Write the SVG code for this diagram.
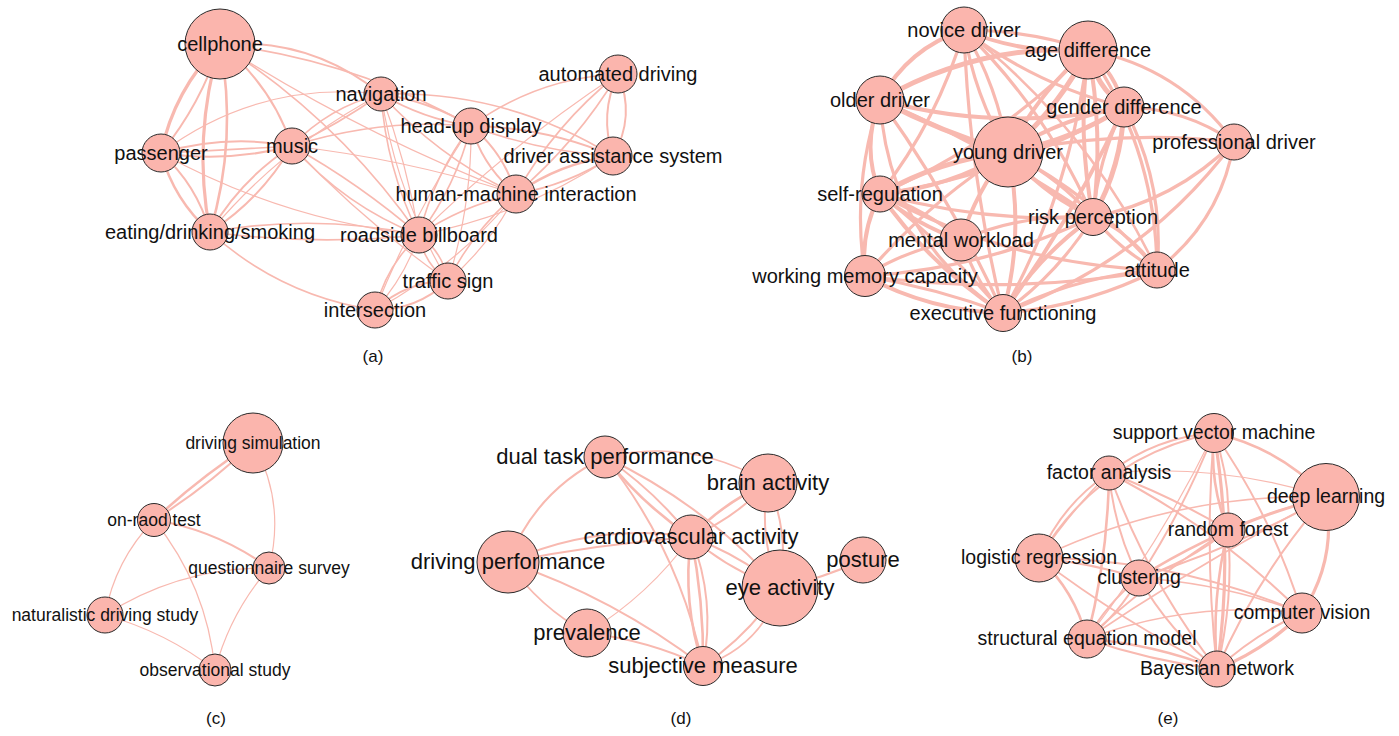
<svg xmlns="http://www.w3.org/2000/svg" width="1399" height="736" viewBox="0 0 1399 736">
<style>
  .bg{fill:#ffffff}
  .e{fill:none;stroke:#f8b9b0;stroke-linecap:round}
  .w1{stroke-width:1.2}
  .w15{stroke-width:1.6}
  .w2{stroke-width:2}
  .w25{stroke-width:2.6}
  .w3{stroke-width:3.2}
  .w4{stroke-width:4}
  .w5{stroke-width:5}
  .n circle{fill:#fbb5ad;stroke:#2a2a2a;stroke-width:1}
  .n text{font-family:"Liberation Sans",Arial,sans-serif;fill:#111;text-anchor:middle}
  .pa text,.pb text{font-size:20px}
  .pc text{font-size:17.5px}
  .pd text{font-size:22px}
  .pe text{font-size:19.5px}
  .cap{font-family:"Liberation Sans",Arial,sans-serif;font-size:17px;fill:#111;text-anchor:middle}
</style>
<rect class="bg" width="1399" height="736"/>

<!-- panel (a) -->
<g id="edges-a">
  <path class="e w3" d="M220,44 Q174,90 161,153"/>
  <path class="e w2" d="M220,44 Q201,104 161,153"/>
  <path class="e w2" d="M220,44 Q271,84 292,146"/>
  <path class="e w3" d="M220,44 Q192,137 210,232"/>
  <path class="e w25" d="M220,44 Q238,139 210,232"/>
  <path class="e w2" d="M220,44 Q310,37 381,94"/>
  <path class="e w15" d="M220,44 Q354,60 471,126"/>
  <path class="e w15" d="M220,44 Q339,120 419,235"/>
  <path class="e w1" d="M220,44 Q360,134 516,194"/>
  <path class="e w2" d="M161,153 Q226,134 292,146"/>
  <path class="e w2" d="M161,153 Q227,163 292,146"/>
  <path class="e w15" d="M161,153 Q227,150 292,146"/>
  <path class="e w1" d="M161,153 Q259,80 381,94"/>
  <path class="e w25" d="M161,153 Q174,200 210,232"/>
  <path class="e w2" d="M161,153 Q197,185 210,232"/>
  <path class="e w1" d="M161,153 Q282,220 419,235"/>
  <path class="e w2" d="M292,146 Q241,179 210,232"/>
  <path class="e w2" d="M292,146 Q261,199 210,232"/>
  <path class="e w15" d="M292,146 Q329,107 381,94"/>
  <path class="e w15" d="M292,146 Q339,124 381,94"/>
  <path class="e w15" d="M292,146 Q380,118 471,126"/>
  <path class="e w15" d="M292,146 Q345,206 419,235"/>
  <path class="e w15" d="M292,146 Q360,184 419,235"/>
  <path class="e w1" d="M292,146 Q406,159 516,194"/>
  <path class="e w1" d="M292,146 Q363,221 448,281"/>
  <path class="e w15" d="M210,232 Q315,213 419,235"/>
  <path class="e w15" d="M210,232 Q314,246 419,235"/>
  <path class="e w15" d="M210,232 Q281,296 375,310"/>
  <path class="e w1" d="M210,232 Q282,146 381,94"/>
  <path class="e w2" d="M381,94 Q423,119 471,126"/>
  <path class="e w2" d="M381,94 Q429,101 471,126"/>
  <path class="e w15" d="M381,94 Q439,158 516,194"/>
  <path class="e w15" d="M381,94 Q386,168 419,235"/>
  <path class="e w1" d="M381,94 Q407,163 419,235"/>
  <path class="e w1" d="M381,94 Q396,194 448,281"/>
  <path class="e w15" d="M381,94 Q506,90 613,156"/>
  <path class="e w15" d="M471,126 Q537,78 618,74"/>
  <path class="e w2" d="M471,126 Q545,127 613,156"/>
  <path class="e w15" d="M471,126 Q540,152 613,156"/>
  <path class="e w2" d="M471,126 Q483,167 516,194"/>
  <path class="e w2" d="M471,126 Q504,153 516,194"/>
  <path class="e w15" d="M471,126 Q434,175 419,235"/>
  <path class="e w15" d="M471,126 Q456,186 419,235"/>
  <path class="e w1" d="M471,126 Q472,205 448,281"/>
  <path class="e w1" d="M471,126 Q414,213 375,310"/>
  <path class="e w2" d="M618,74 Q599,114 613,156"/>
  <path class="e w2" d="M618,74 Q636,116 613,156"/>
  <path class="e w15" d="M618,74 Q555,124 516,194"/>
  <path class="e w15" d="M618,74 Q577,142 516,194"/>
  <path class="e w1" d="M618,74 Q510,145 419,235"/>
  <path class="e w25" d="M613,156 Q560,163 516,194"/>
  <path class="e w2" d="M613,156 Q568,185 516,194"/>
  <path class="e w1" d="M613,156 Q524,215 419,235"/>
  <path class="e w15" d="M516,194 Q463,205 419,235"/>
  <path class="e w15" d="M516,194 Q473,231 448,281"/>
  <path class="e w1" d="M516,194 Q491,244 448,281"/>
  <path class="e w1" d="M516,194 Q457,266 375,310"/>
  <path class="e w15" d="M419,235 Q424,264 448,281"/>
  <path class="e w15" d="M419,235 Q443,252 448,281"/>
  <path class="e w15" d="M419,235 Q386,266 375,310"/>
  <path class="e w1" d="M419,235 Q405,277 375,310"/>
  <path class="e w2" d="M448,281 Q406,281 375,310"/>
  <path class="e w2" d="M448,281 Q417,310 375,310"/>
</g>
<g class="n pa">
  <g id="a-cellphone"><circle cx="220" cy="44" r="35"/><text x="220" y="44" dy="0.33em">cellphone</text></g>
  <g id="a-navigation"><circle cx="381" cy="94" r="17"/><text x="381" y="94" dy="0.33em">navigation</text></g>
  <g id="a-passenger"><circle cx="161" cy="153" r="19"/><text x="161" y="153" dy="0.33em">passenger</text></g>
  <g id="a-music"><circle cx="292" cy="146" r="18"/><text x="292" y="146" dy="0.33em">music</text></g>
  <g id="a-head-up-display"><circle cx="471" cy="126" r="18"/><text x="471" y="126" dy="0.33em">head-up display</text></g>
  <g id="a-automated-driving"><circle cx="618" cy="74" r="19"/><text x="618" y="74" dy="0.33em">automated driving</text></g>
  <g id="a-driver-assistance-system"><circle cx="613" cy="156" r="19"/><text x="613" y="156" dy="0.33em">driver assistance system</text></g>
  <g id="a-eating"><circle cx="210" cy="232" r="18"/><text x="210" y="232" dy="0.33em">eating/drinking/smoking</text></g>
  <g id="a-roadside-billboard"><circle cx="419" cy="235" r="18"/><text x="419" y="235" dy="0.33em">roadside billboard</text></g>
  <g id="a-human-machine-interaction"><circle cx="516" cy="194" r="19"/><text x="516" y="194" dy="0.33em">human-machine interaction</text></g>
  <g id="a-traffic-sign"><circle cx="448" cy="281" r="18"/><text x="448" y="281" dy="0.33em">traffic sign</text></g>
  <g id="a-intersection"><circle cx="375" cy="310" r="18"/><text x="375" y="310" dy="0.33em">intersection</text></g>
</g>
<text class="cap" x="373" y="362">(a)</text>

<!-- panel (b) -->
<g id="edges-b">
  <path class="e w4" d="M880,100 Q908,48 964,30"/>
  <path class="e w3" d="M964,30 Q974,95 1008,152"/>
  <path class="e w3" d="M964,30 Q998,87 1008,152"/>
  <path class="e w4" d="M964,30 Q1024,55 1088,50"/>
  <path class="e w3" d="M964,30 Q1028,30 1088,50"/>
  <path class="e w3" d="M964,30 Q1036,85 1124,107"/>
  <path class="e w3" d="M964,30 Q1047,111 1093,217"/>
  <path class="e w3" d="M964,30 Q938,120 880,194"/>
  <path class="e w25" d="M964,30 Q1089,127 1157,270"/>
  <path class="e w3" d="M964,30 Q969,174 1003,313"/>
  <path class="e w5" d="M880,100 Q941,132 1008,152"/>
  <path class="e w5" d="M880,100 Q977,44 1088,50"/>
  <path class="e w4" d="M880,100 Q1001,133 1124,107"/>
  <path class="e w4" d="M880,100 Q861,147 880,194"/>
  <path class="e w3" d="M880,100 Q851,186 865,276"/>
  <path class="e w3" d="M880,100 Q952,200 1003,313"/>
  <path class="e w3" d="M880,100 Q888,237 1003,313"/>
  <path class="e w3" d="M880,100 Q992,148 1093,217"/>
  <path class="e w5" d="M1008,152 Q1058,109 1088,50"/>
  <path class="e w4" d="M1008,152 Q1038,93 1088,50"/>
  <path class="e w5" d="M1008,152 Q1071,141 1124,107"/>
  <path class="e w4" d="M1008,152 Q1062,118 1124,107"/>
  <path class="e w5" d="M1008,152 Q940,160 880,194"/>
  <path class="e w4" d="M1008,152 Q949,188 880,194"/>
  <path class="e w4" d="M1008,152 Q976,191 961,240"/>
  <path class="e w4" d="M1008,152 Q1043,195 1093,217"/>
  <path class="e w3" d="M1008,152 Q1057,176 1093,217"/>
  <path class="e w4" d="M1008,152 Q1025,233 1003,313"/>
  <path class="e w3" d="M1008,152 Q1094,196 1157,270"/>
  <path class="e w3" d="M1008,152 Q1120,129 1234,142"/>
  <path class="e w3" d="M1008,152 Q927,203 865,276"/>
  <path class="e w5" d="M1088,50 Q1095,86 1124,107"/>
  <path class="e w4" d="M1088,50 Q1115,73 1124,107"/>
  <path class="e w3" d="M1088,50 Q1179,67 1234,142"/>
  <path class="e w4" d="M1088,50 Q1077,134 1093,217"/>
  <path class="e w4" d="M1088,50 Q1104,133 1093,217"/>
  <path class="e w3" d="M1088,50 Q1156,150 1157,270"/>
  <path class="e w3" d="M1088,50 Q998,143 880,194"/>
  <path class="e w3" d="M1088,50 Q1072,190 1003,313"/>
  <path class="e w3" d="M1124,107 Q1184,108 1234,142"/>
  <path class="e w5" d="M1124,107 Q1122,166 1093,217"/>
  <path class="e w3" d="M1124,107 Q1098,159 1093,217"/>
  <path class="e w3" d="M1124,107 Q1165,184 1157,270"/>
  <path class="e w4" d="M1124,107 Q1074,216 1003,313"/>
  <path class="e w3" d="M1124,107 Q1011,175 880,194"/>
  <path class="e w3" d="M1234,142 Q1175,201 1093,217"/>
  <path class="e w3" d="M1234,142 Q1221,221 1157,270"/>
  <path class="e w3" d="M1234,142 Q1144,262 1003,313"/>
  <path class="e w3" d="M1093,217 Q1120,250 1157,270"/>
  <path class="e w25" d="M1093,217 Q1133,234 1157,270"/>
  <path class="e w4" d="M1093,217 Q1038,256 1003,313"/>
  <path class="e w3" d="M1093,217 Q1058,274 1003,313"/>
  <path class="e w3" d="M1093,217 Q1024,213 961,240"/>
  <path class="e w3" d="M1093,217 Q985,223 880,194"/>
  <path class="e w3" d="M1093,217 Q985,269 865,276"/>
  <path class="e w3" d="M1157,270 Q1084,307 1003,313"/>
  <path class="e w3" d="M1157,270 Q1076,276 1003,313"/>
  <path class="e w3" d="M1157,270 Q1009,265 880,194"/>
  <path class="e w3" d="M1157,270 Q1012,296 865,276"/>
  <path class="e w4" d="M880,194 Q916,225 961,240"/>
  <path class="e w3" d="M880,194 Q925,209 961,240"/>
  <path class="e w4" d="M880,194 Q860,233 865,276"/>
  <path class="e w4" d="M880,194 Q930,266 1003,313"/>
  <path class="e w3" d="M880,194 Q948,247 1003,313"/>
  <path class="e w3" d="M961,240 Q975,281 1003,313"/>
  <path class="e w3" d="M961,240 Q909,248 865,276"/>
  <path class="e w4" d="M865,276 Q930,311 1003,313"/>
  <path class="e w3" d="M865,276 Q936,288 1003,313"/>
</g>
<g class="n pb">
  <g id="b-novice-driver"><circle cx="964" cy="30" r="23"/><text x="964" y="30" dy="0.33em">novice driver</text></g>
  <g id="b-older-driver"><circle cx="880" cy="100" r="24"/><text x="880" y="100" dy="0.33em">older driver</text></g>
  <g id="b-young-driver"><circle cx="1008" cy="152" r="35"/><text x="1008" y="152" dy="0.33em">young driver</text></g>
  <g id="b-age-difference"><circle cx="1088" cy="50" r="29"/><text x="1088" y="50" dy="0.33em">age difference</text></g>
  <g id="b-gender-difference"><circle cx="1124" cy="107" r="20"/><text x="1124" y="107" dy="0.33em">gender difference</text></g>
  <g id="b-professional-driver"><circle cx="1234" cy="142" r="18"/><text x="1234" y="142" dy="0.33em">professional driver</text></g>
  <g id="b-self-regulation"><circle cx="880" cy="194" r="18"/><text x="880" y="194" dy="0.33em">self-regulation</text></g>
  <g id="b-risk-perception"><circle cx="1093" cy="217" r="18.5"/><text x="1093" y="217" dy="0.33em">risk perception</text></g>
  <g id="b-mental-workload"><circle cx="961" cy="240" r="21"/><text x="961" y="240" dy="0.33em">mental workload</text></g>
  <g id="b-attitude"><circle cx="1157" cy="270" r="18"/><text x="1157" y="270" dy="0.33em">attitude</text></g>
  <g id="b-working-memory-capacity"><circle cx="865" cy="276" r="20.5"/><text x="865" y="276" dy="0.33em">working memory capacity</text></g>
  <g id="b-executive-functioning"><circle cx="1003" cy="313" r="18.5"/><text x="1003" y="313" dy="0.33em">executive functioning</text></g>
</g>
<text class="cap" x="1022" y="362">(b)</text>

<!-- panel (c) -->
<g id="edges-c">
  <path class="e w25" d="M253,443 Q200,477 154,520"/>
  <path class="e w2" d="M253,443 Q207,487 154,520"/>
  <path class="e w1" d="M253,443 Q286,502 269,568"/>
  <path class="e w2" d="M154,520 Q217,530 269,568"/>
  <path class="e w1" d="M154,520 Q115,560 105,615"/>
  <path class="e w1" d="M154,520 Q207,586 215,670"/>
  <path class="e w1" d="M269,568 Q180,567 105,615"/>
  <path class="e w1" d="M269,568 Q230,613 215,670"/>
  <path class="e w1" d="M105,615 Q166,632 215,670"/>
</g>
<g class="n pc">
  <g id="c-driving-simulation"><circle cx="253" cy="443" r="30"/><text x="253" y="443" dy="0.33em">driving simulation</text></g>
  <g id="c-on-raod-test"><circle cx="154" cy="520" r="16.5"/><text x="154" y="520" dy="0.33em">on-raod test</text></g>
  <g id="c-questionnaire-survey"><circle cx="269" cy="568" r="16"/><text x="269" y="568" dy="0.33em">questionnaire survey</text></g>
  <g id="c-naturalistic-driving-study"><circle cx="105" cy="615" r="18"/><text x="105" y="615" dy="0.33em">naturalistic driving study</text></g>
  <g id="c-observational-study"><circle cx="215" cy="670" r="16"/><text x="215" y="670" dy="0.33em">observational study</text></g>
</g>
<text class="cap" x="216" y="724">(c)</text>

<!-- panel (d) -->
<g id="edges-d">
  <path class="e w2" d="M605,457 Q536,490 508,562"/>
  <path class="e w15" d="M605,457 Q692,437 768,483"/>
  <path class="e w25" d="M605,457 Q642,504 691,537"/>
  <path class="e w2" d="M605,457 Q654,490 691,537"/>
  <path class="e w2" d="M605,457 Q706,505 780,588"/>
  <path class="e w2" d="M605,457 Q679,550 703,666"/>
  <path class="e w25" d="M768,483 Q724,502 691,537"/>
  <path class="e w2" d="M768,483 Q735,518 691,537"/>
  <path class="e w2" d="M768,483 Q758,537 780,588"/>
  <path class="e w2" d="M768,483 Q790,534 780,588"/>
  <path class="e w2" d="M508,562 Q596,522 691,537"/>
  <path class="e w2" d="M508,562 Q599,544 691,537"/>
  <path class="e w2" d="M691,537 Q730,571 780,588"/>
  <path class="e w2" d="M691,537 Q740,555 780,588"/>
  <path class="e w25" d="M691,537 Q682,603 703,666"/>
  <path class="e w25" d="M691,537 Q704,601 703,666"/>
  <path class="e w2" d="M691,537 Q716,600 703,666"/>
  <path class="e w1" d="M691,537 Q649,595 587,633"/>
  <path class="e w15" d="M508,562 Q539,607 587,633"/>
  <path class="e w2" d="M508,562 Q614,598 703,666"/>
  <path class="e w2" d="M587,633 Q648,640 703,666"/>
  <path class="e w2" d="M780,588 Q749,635 703,666"/>
  <path class="e w15" d="M780,588 Q761,646 703,666"/>
  <path class="e w2" d="M780,588 Q823,578 863,560"/>
</g>
<g class="n pd">
  <g id="d-dual-task-performance"><circle cx="605" cy="457" r="21"/><text x="605" y="457" dy="0.33em">dual task performance</text></g>
  <g id="d-brain-activity"><circle cx="768" cy="483" r="29"/><text x="768" y="483" dy="0.33em">brain activity</text></g>
  <g id="d-cardiovascular-activity"><circle cx="691" cy="537" r="22"/><text x="691" y="537" dy="0.33em">cardiovascular activity</text></g>
  <g id="d-driving-performance"><circle cx="508" cy="562" r="31"/><text x="508" y="562" dy="0.33em">driving performance</text></g>
  <g id="d-eye-activity"><circle cx="780" cy="588" r="38"/><text x="780" y="588" dy="0.33em">eye activity</text></g>
  <g id="d-posture"><circle cx="863" cy="560" r="23"/><text x="863" y="560" dy="0.33em">posture</text></g>
  <g id="d-prevalence"><circle cx="587" cy="633" r="24"/><text x="587" y="633" dy="0.33em">prevalence</text></g>
  <g id="d-subjective-measure"><circle cx="703" cy="666" r="19.5"/><text x="703" y="666" dy="0.33em">subjective measure</text></g>
</g>
<text class="cap" x="681" y="724">(d)</text>

<!-- panel (e) -->
<g id="edges-e">
  <path class="e w2" d="M1214,433 Q1156,437 1109,473"/>
  <path class="e w25" d="M1214,433 Q1280,448 1326,497"/>
  <path class="e w25" d="M1214,433 Q1209,483 1228,530"/>
  <path class="e w2" d="M1214,433 Q1231,480 1228,530"/>
  <path class="e w2" d="M1214,433 Q1272,516 1302,613"/>
  <path class="e w3" d="M1214,433 Q1234,551 1217,669"/>
  <path class="e w2" d="M1214,433 Q1204,551 1217,669"/>
  <path class="e w2" d="M1214,433 Q1099,457 1039,558"/>
  <path class="e w1" d="M1214,433 Q1161,542 1087,639"/>
  <path class="e w2" d="M1214,433 Q1184,509 1139,578"/>
  <path class="e w2" d="M1109,473 Q1061,505 1039,558"/>
  <path class="e w15" d="M1109,473 Q1070,512 1039,558"/>
  <path class="e w25" d="M1109,473 Q1108,557 1087,639"/>
  <path class="e w2" d="M1109,473 Q1114,529 1139,578"/>
  <path class="e w2" d="M1109,473 Q1171,496 1228,530"/>
  <path class="e w2" d="M1109,473 Q1217,528 1302,613"/>
  <path class="e w2" d="M1109,473 Q1147,580 1217,669"/>
  <path class="e w1" d="M1109,473 Q1220,463 1326,497"/>
  <path class="e w2" d="M1326,497 Q1275,509 1228,530"/>
  <path class="e w25" d="M1326,497 Q1226,523 1139,578"/>
  <path class="e w2" d="M1326,497 Q1237,547 1139,578"/>
  <path class="e w3" d="M1326,497 Q1337,560 1302,613"/>
  <path class="e w2" d="M1326,497 Q1258,574 1217,669"/>
  <path class="e w15" d="M1326,497 Q1202,561 1087,639"/>
  <path class="e w15" d="M1326,497 Q1175,493 1039,558"/>
  <path class="e w2" d="M1228,530 Q1188,563 1139,578"/>
  <path class="e w25" d="M1228,530 Q1211,599 1217,669"/>
  <path class="e w2" d="M1228,530 Q1234,600 1217,669"/>
  <path class="e w2" d="M1228,530 Q1152,578 1087,639"/>
  <path class="e w2" d="M1039,558 Q1090,563 1139,578"/>
  <path class="e w25" d="M1039,558 Q1075,591 1087,639"/>
  <path class="e w2" d="M1039,558 Q1176,559 1302,613"/>
  <path class="e w15" d="M1039,558 Q1123,622 1217,669"/>
  <path class="e w15" d="M1139,578 Q1223,583 1302,613"/>
  <path class="e w2" d="M1139,578 Q1169,631 1217,669"/>
  <path class="e w2" d="M1139,578 Q1107,603 1087,639"/>
  <path class="e w2" d="M1139,578 Q1119,614 1087,639"/>
  <path class="e w25" d="M1087,639 Q1154,644 1217,669"/>
  <path class="e w2" d="M1087,639 Q1151,661 1217,669"/>
  <path class="e w15" d="M1087,639 Q1191,600 1302,613"/>
  <path class="e w3" d="M1302,613 Q1265,650 1217,669"/>
  <path class="e w2" d="M1302,613 Q1255,634 1217,669"/>
</g>
<g class="n pe">
  <g id="e-support-vector-machine"><circle cx="1214" cy="433" r="19.5"/><text x="1214" y="433" dy="0.33em">support vector machine</text></g>
  <g id="e-factor-analysis"><circle cx="1109" cy="473" r="17"/><text x="1109" y="473" dy="0.33em">factor analysis</text></g>
  <g id="e-deep-learning"><circle cx="1326" cy="497" r="33.5"/><text x="1326" y="497" dy="0.33em">deep learning</text></g>
  <g id="e-random-forest"><circle cx="1228" cy="530" r="17"/><text x="1228" y="530" dy="0.33em">random forest</text></g>
  <g id="e-logistic-regression"><circle cx="1039" cy="558" r="24"/><text x="1039" y="558" dy="0.33em">logistic regression</text></g>
  <g id="e-clustering"><circle cx="1139" cy="578" r="18"/><text x="1139" y="578" dy="0.33em">clustering</text></g>
  <g id="e-computer-vision"><circle cx="1302" cy="613" r="20"/><text x="1302" y="613" dy="0.33em">computer vision</text></g>
  <g id="e-structural-equation-model"><circle cx="1087" cy="639" r="19"/><text x="1087" y="639" dy="0.33em">structural equation model</text></g>
  <g id="e-bayesian-network"><circle cx="1217" cy="669" r="18"/><text x="1217" y="669" dy="0.33em">Bayesian network</text></g>
</g>
<text class="cap" x="1168" y="724">(e)</text>
</svg>
